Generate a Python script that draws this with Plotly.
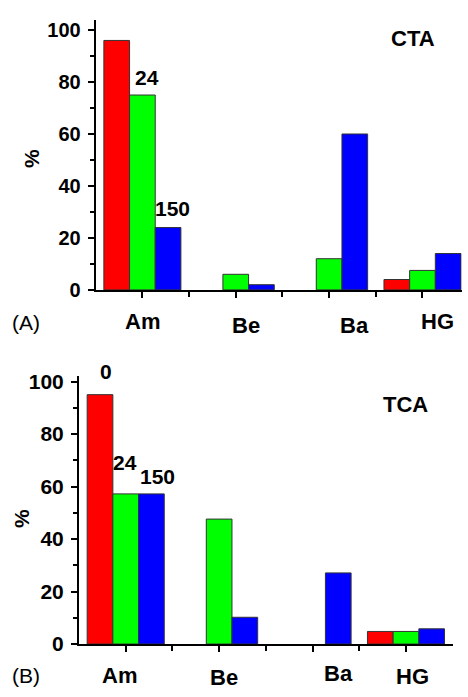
import plotly.graph_objects as go

# ---- data ----
categories = ["Am", "Be", "Ba", "HG"]
series_names = ["0", "24", "150"]
cta_0 = [96, None, None, 4]
cta_24 = [75, 6, 12, 7.5]
cta_150 = [24, 2, 60, 14]
tca_0 = [95, None, None, 4.8]
tca_24 = [57.2, 47.6, None, 4.8]
tca_150 = [57.2, 10.2, 27.1, 5.8]
y_ticks = [0, 20, 40, 60, 80, 100]

W, H = 468, 697
colors = ["#FF0000", "#00FF00", "#0000FF"]
FONT = "Liberation Sans, Arial, sans-serif"
xpos = list(range(1, len(categories) + 1))


def px(x):
    return x / W


def py(y):
    return 1 - y / H


fig = go.Figure()
for vals, name, c in zip([cta_0, cta_24, cta_150], series_names, colors):
    fig.add_trace(go.Bar(x=xpos, y=vals, name=name, marker=dict(color=c, line=dict(color="#333333", width=1)),
                         xaxis="x", yaxis="y", showlegend=False))
for vals, name, c in zip([tca_0, tca_24, tca_150], series_names, colors):
    fig.add_trace(go.Bar(x=xpos, y=vals, name=name, marker=dict(color=c, line=dict(color="#333333", width=1)),
                         xaxis="x2", yaxis="y2", showlegend=False))

def yax(domain, rng, size):
    return dict(domain=domain, range=rng, showline=True, linewidth=2, linecolor="black",
                showgrid=False, zeroline=False, tickvals=y_ticks, ticks="outside", ticklen=6,
                tickwidth=2, tickcolor="black", ticklabelstandoff=3,
                tickfont=dict(family=FONT, size=size, color="black", weight="bold"),
                minor=dict(dtick=10, tick0=0, ticks="outside", ticklen=4, tickwidth=1.5, tickcolor="black"))


def xax(domain, rng, anchor):
    return dict(domain=domain, range=rng, anchor=anchor, showline=True, linewidth=2, linecolor="black",
                showgrid=False, zeroline=False, tickvals=xpos, showticklabels=False, ticks="outside",
                ticklen=6, tickwidth=2, tickcolor="black",
                minor=dict(tickvals=[1.5, 2.5, 3.5], ticks="outside", ticklen=5, tickwidth=1.5, tickcolor="black"))


fig.update_layout(
    width=W, height=H, margin=dict(l=0, r=0, t=0, b=0),
    paper_bgcolor="white", plot_bgcolor="white",
    barmode="group", bargap=0.175, bargroupgap=0,
    xaxis=xax([px(95.7), px(461.7)], [0.5, 4.42], "y"),
    yaxis=yax([py(291), py(14)], [0, 104], 20),
    xaxis2=xax([px(79), px(452.7)], [0.5, 4.5], "y2"),
    yaxis2=dict(yax([py(654), py(379)], [0, 102.2], 21), anchor="x2"),
)
fig.layout.yaxis.anchor = "x"

anns = []


def add(text, x, y, size=21, bold=True, angle=0):
    anns.append(dict(text=text, x=px(x), y=py(y), xref="paper", yref="paper", showarrow=False,
                     xanchor="center", yanchor="middle", textangle=angle,
                     font=dict(family=FONT, size=size, color="black", weight="bold" if bold else "normal")))

# Panel A
add("CTA", 412.5, 33.7, size=22)
add("24", 146.7, 73.3)
add("150", 172.3, 208)
add("(A)", 25.5, 324, bold=False)
add("%", 32, 156.7, angle=-90)
for t, x, y in zip(categories, [142.5, 245.7, 354.7, 437], [323, 327, 327, 323]):
    add(t, x, y, size=22)

# Panel B
add("TCA", 405.8, 408.3, size=22)
add("0", 105.8, 374.5)
add("24", 125, 467.5)
add("150", 157, 482.5)
add("(B)", 25.5, 686.7, bold=False)
add("%", 20.8, 525, angle=-90)
for t, x, y in zip(categories, [119, 224, 338.3, 412.3], [686.7, 688, 684, 687]):
    add(t, x, y, size=22)

fig.update_layout(annotations=anns)
fig.write_html("out.html")
